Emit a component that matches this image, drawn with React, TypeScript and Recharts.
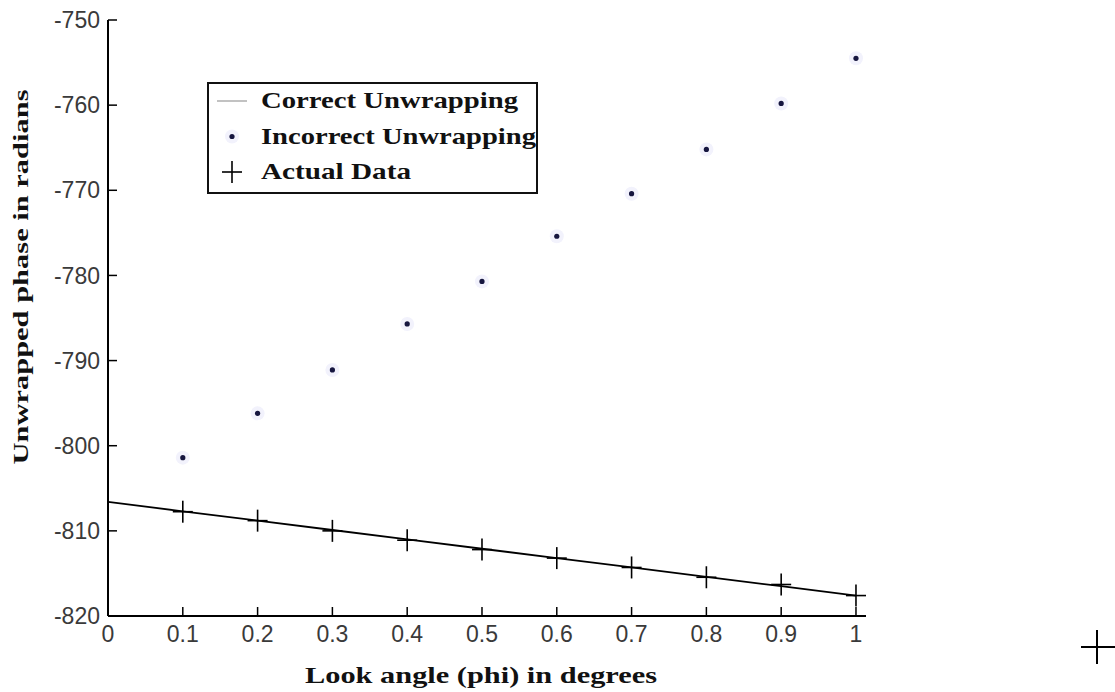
import React from 'react';
import { ComposedChart, Line, XAxis, YAxis, Legend, Label } from 'recharts';

// look angle ticks and values
const xTicks = [0, 0.1, 0.2, 0.3, 0.4, 0.5, 0.6, 0.7, 0.8, 0.9, 1];
const yTicks = [-820, -810, -800, -790, -780, -770, -760, -750];

const correctX = [0, 0.1, 0.2, 0.3, 0.4, 0.5, 0.6, 0.7, 0.8, 0.9, 1];
const correctPhase = [-806.6, -807.7, -808.8, -809.9, -811.0, -812.1, -813.2, -814.3, -815.4, -816.5, -817.6];

const sampleX = [0.1, 0.2, 0.3, 0.4, 0.5, 0.6, 0.7, 0.8, 0.9, 1];
const incorrectPhase = [-801.4, -796.2, -791.1, -785.7, -780.7, -775.4, -770.4, -765.2, -759.8, -754.5];
const actualPhase = [-807.75, -808.8, -810.0, -811.1, -812.2, -813.2, -814.3, -815.45, -816.3, -817.6];

const seriesNames = ['Correct Unwrapping', 'Incorrect Unwrapping', 'Actual Data'];

const correctData = correctX.map((x, i) => ({ x, y: correctPhase[i] }));
const incorrectData = sampleX.map((x, i) => ({ x, y: incorrectPhase[i] }));
const actualData = sampleX.map((x, i) => ({ x, y: actualPhase[i] }));

const serif = '"Liberation Serif", "Times New Roman", serif';
const sans = '"Liberation Sans", Arial, sans-serif';

const DotMark = (p: any) => (
  <g key={'d' + p.index}>
    <circle cx={p.cx} cy={p.cy} r={7} fill="#f2f2fc" />
    <circle cx={p.cx} cy={p.cy} r={2.6} fill="#16163f" />
  </g>
);

const CrossMark = (p: any) => (
  <g key={'c' + p.index} stroke="#000" strokeWidth={1.6}>
    <line x1={p.cx - 10} x2={p.cx + 10} y1={p.cy} y2={p.cy} />
    <line x1={p.cx} x2={p.cx} y1={p.cy - 11} y2={p.cy + 11} />
  </g>
);

const textWidths = [257, 275, 150];

const LegendBox = ({ payload }: any) => {
  const items = [...(payload || [])].sort(
    (a: any, b: any) => seriesNames.indexOf(a.value) - seriesNames.indexOf(b.value)
  );
  return (
    <svg width={331} height={112} style={{ display: 'block' }}>
      <rect x={1} y={1} width={329} height={110} fill="#fff" stroke="#111" strokeWidth={2} />
      {items.map((item: any, i: number) => {
        const cy = 19 + i * 35.5;
        return (
          <g key={item.value}>
            {i === 0 && <line x1={10} x2={40} y1={cy} y2={cy} stroke="#999" strokeWidth={1.2} />}
            {i === 1 && <DotMark cx={25} cy={cy} index="l" />}
            {i === 2 && <CrossMark cx={25} cy={cy} index="l" />}
            <text
              x={54}
              y={cy + 7}
              fontFamily={serif}
              fontWeight="bold"
              fontSize={23}
              fill="#111"
              textLength={textWidths[i]}
              lengthAdjust="spacingAndGlyphs"
            >
              {item.value}
            </text>
          </g>
        );
      })}
    </svg>
  );
};

const YTitle = ({ viewBox }: any) => (
  <text
    transform={`translate(${viewBox.x + 28}, 277) rotate(-90)`}
    textAnchor="middle"
    fontFamily={serif}
    fontWeight="bold"
    fontSize={22}
    fill="#111"
    textLength={375}
    lengthAdjust="spacingAndGlyphs"
  >
    Unwrapped phase in radians
  </text>
);

const XTitle = ({ viewBox }: any) => (
  <text
    x={481}
    y={viewBox.y + 67}
    textAnchor="middle"
    fontFamily={serif}
    fontWeight="bold"
    fontSize={23}
    fill="#111"
    textLength={352}
    lengthAdjust="spacingAndGlyphs"
  >
    Look angle (phi) in degrees
  </text>
);

export default function App() {
  return (
    <div style={{ position: 'absolute', left: 0, top: 0, width: 1115, height: 692, background: '#fff' }}>
      <ComposedChart width={1115} height={692} margin={{ top: 20, right: 249, bottom: 6, left: 0 }}>
        <XAxis
          type="number"
          dataKey="x"
          domain={[0, 1.0134]}
          ticks={xTicks}
          allowDataOverflow
          height={70}
          tickSize={-9}
          tickMargin={19}
          axisLine={{ stroke: '#000', strokeWidth: 2 }}
          tickLine={{ stroke: '#000', strokeWidth: 1.5 }}
          tick={{ fontFamily: sans, fontSize: 23, fill: '#3a3a3a' }}
          tickFormatter={(v: number) => String(v)}
        >
          <Label content={XTitle} />
        </XAxis>
        <YAxis
          type="number"
          dataKey="y"
          domain={[-820, -750]}
          ticks={yTicks}
          allowDataOverflow
          width={108}
          tickSize={-9}
          tickMargin={17}
          axisLine={{ stroke: '#000', strokeWidth: 2 }}
          tickLine={{ stroke: '#000', strokeWidth: 1.5 }}
          tick={{ fontFamily: sans, fontSize: 23, fill: '#3a3a3a' }}
        >
          <Label content={YTitle} />
        </YAxis>
        <Legend
          layout="vertical"
          align="center"
          verticalAlign="middle"
          content={LegendBox}
          wrapperStyle={{ left: 207, top: 82, width: 331, height: 112 }}
        />
        <Line
          name={seriesNames[0]}
          data={correctData}
          dataKey="y"
          type="linear"
          stroke="#000"
          strokeWidth={1.8}
          dot={false}
          activeDot={false}
          isAnimationActive={false}
        />
        <Line
          name={seriesNames[1]}
          data={incorrectData}
          dataKey="y"
          stroke="none"
          dot={DotMark}
          activeDot={false}
          isAnimationActive={false}
        />
        <Line
          name={seriesNames[2]}
          data={actualData}
          dataKey="y"
          stroke="none"
          dot={CrossMark}
          activeDot={false}
          isAnimationActive={false}
        />
      </ComposedChart>
      <svg width={40} height={40} style={{ position: 'absolute', left: 1078, top: 628 }}>
        <g stroke="#000" strokeWidth={2}>
          <line x1={3} x2={37} y1={19} y2={19} />
          <line x1={19} x2={19} y1={2} y2={36} />
        </g>
      </svg>
    </div>
  );
}
